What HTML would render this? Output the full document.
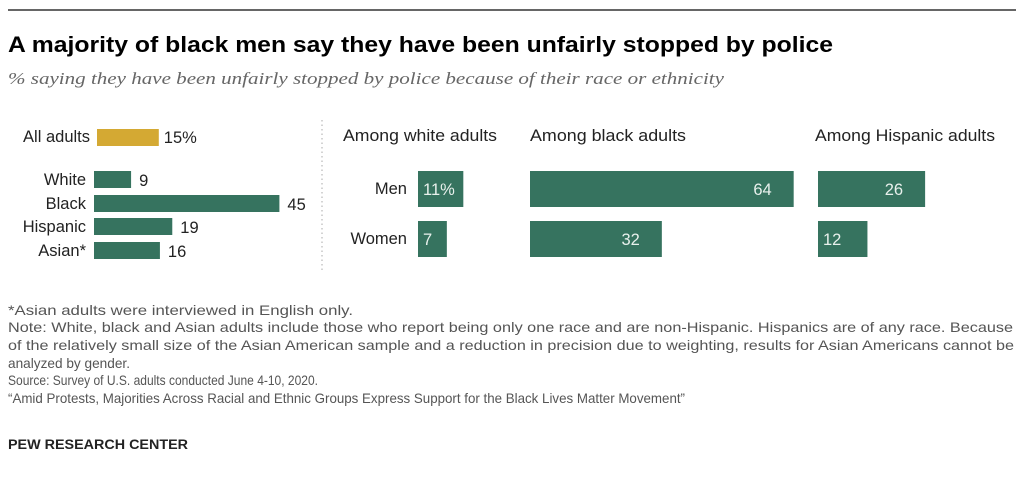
<!DOCTYPE html>
<html><head><meta charset="utf-8"><style>
body{margin:0;background:#fff}
svg text{font-family:"Liberation Sans",sans-serif}
</style></head><body>
<svg id="chart" width="1024" height="490" xmlns="http://www.w3.org/2000/svg">
<line x1="8" y1="10" x2="1016" y2="10" stroke="#333" stroke-width="1.5"/>
<text x="8" y="52" font-size="22" font-weight="bold" fill="#000" textLength="825" lengthAdjust="spacingAndGlyphs">A majority of black men say they have been unfairly stopped by police</text>
<text x="8" y="84" font-size="17" font-style="italic" fill="#666" style="font-family:'Liberation Serif',serif" textLength="716" lengthAdjust="spacingAndGlyphs">% saying they have been unfairly stopped by police because of their race or ethnicity</text>
<line x1="322" y1="120" x2="322" y2="270" stroke="#aaa" stroke-dasharray="1.5,3"/>
<g id="left"></g>
<g id="right"></g>
<g font-size="14" fill="#555">
<text x="8" y="315" textLength="345" lengthAdjust="spacingAndGlyphs">*Asian adults were interviewed in English only.</text>
<text x="8" y="332" textLength="1005" lengthAdjust="spacingAndGlyphs">Note: White, black and Asian adults include those who report being only one race and are non-Hispanic. Hispanics are of any race. Because</text>
<text x="8" y="350" textLength="1006" lengthAdjust="spacingAndGlyphs">of the relatively small size of the Asian American sample and a reduction in precision due to weighting, results for Asian Americans cannot be</text>
<text x="8" y="368" textLength="122" lengthAdjust="spacingAndGlyphs">analyzed by gender.</text>
<text x="8" y="385" textLength="310" lengthAdjust="spacingAndGlyphs">Source: Survey of U.S. adults conducted June 4-10, 2020.</text>
<text x="8" y="403" textLength="677" lengthAdjust="spacingAndGlyphs">“Amid Protests, Majorities Across Racial and Ethnic Groups Express Support for the Black Lives Matter Movement”</text>
</g>
<text x="8" y="449" font-size="13.5" font-weight="bold" fill="#222" textLength="180" lengthAdjust="spacingAndGlyphs">PEW RESEARCH CENTER</text>
</svg>
<script>
const groups=["White","Black","Hispanic","Asian*"];
const groupValues=[9,45,19,16];
const allAdults=15;
const panelTitles=["Among white adults","Among black adults","Among Hispanic adults"];
const menValues=[11,64,26];
const womenValues=[7,32,12];
const NS="http://www.w3.org/2000/svg";
const scale=v=>v*4.12;
function mk(tag,attrs,parent,txt){const e=document.createElementNS(NS,tag);for(const k in attrs)e.setAttribute(k,attrs[k]);if(txt!==undefined)e.textContent=txt;parent.appendChild(e);return e;}
const green="#36735f",gold="#d4a933";
const FS=16.5;
const L=document.getElementById('left');
let t=mk('text',{x:90,y:142,'font-size':FS,fill:'#222','text-anchor':'end'},L,'All adults');


let r=mk('rect',{x:97,y:129,width:scale(allAdults),height:17,fill:gold},L);


t=mk('text',{x:97+scale(allAdults)+5,y:143,'font-size':FS,fill:'#222'},L,allAdults+'%');


const rowY=[171,195,218,242];
groups.forEach((g,i)=>{
 const y=rowY[i],w=scale(groupValues[i]);
 let a=mk('text',{x:86,y:y+14,'font-size':FS,fill:'#222','text-anchor':'end'},L,g);
 
 
 let b=mk('rect',{x:94,y:y,width:w,height:17,fill:green},L);
 
 
 let c=mk('text',{x:94+w+8,y:y+15,'font-size':FS,fill:'#222'},L,groupValues[i]);
 
 
});
const R=document.getElementById('right');
const px=[418,530,818],tx=[343,530,815],tw=[154,156,180];
let m=mk('text',{x:407,y:194,'font-size':FS,fill:'#222','text-anchor':'end'},R,'Men');


m=mk('text',{x:407,y:244,'font-size':FS,fill:'#222','text-anchor':'end'},R,'Women');


panelTitles.forEach((p,i)=>{
 let h=mk('text',{x:tx[i],y:141,'font-size':FS,fill:'#222',textLength:tw[i],lengthAdjust:'spacingAndGlyphs'},R,p);
 
 
 [[menValues,171,'bar-men'],[womenValues,221,'bar-women']].forEach(([arr,y,nm],j)=>{
  const w=scale(arr[i]);
  let b=mk('rect',{x:px[i],y:y,width:w,height:36,fill:green},R);
  
  
  const lbl=(i===0&&j===0)?arr[i]+'%':String(arr[i]);
  const small=w<60;
  let v=mk('text',{x:small?px[i]+5:px[i]+w-22,y:y+24,'font-size':FS,fill:'#e8f0ec','text-anchor':small?'start':'end'},R,lbl);
  
  
 });
});
</script>
</body></html>
